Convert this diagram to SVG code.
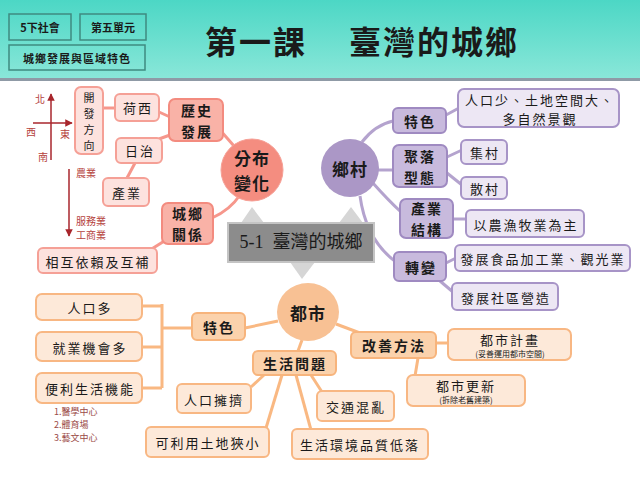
<svg xmlns="http://www.w3.org/2000/svg" width="640" height="480" viewBox="0 0 640 480">
<defs>
<linearGradient id="hdr" x1="0" y1="0" x2="0" y2="1">
<stop offset="0" stop-color="#4cd7c5"/>
<stop offset="1" stop-color="#8ae7d9"/>
</linearGradient>
<marker id="arr" viewBox="0 0 10 10" refX="9" refY="5" markerWidth="5" markerHeight="5" orient="auto">
<path d="M0,0 L10,5 L0,10 z" fill="#a8262c"/>
</marker>
</defs>
<style>
text{font-family:"Noto Sans CJK TC","Noto Sans CJK SC",sans-serif;fill:#1a1a1a;text-anchor:middle;dominant-baseline:central}
.hb{fill:none;stroke:#3f8a80;stroke-width:1.5}
.ht{font-size:11px;font-weight:bold}
.t{font-size:13px;letter-spacing:2px}
.tv{font-size:11px}
.tb{font-size:14px;font-weight:bold;letter-spacing:2px}
.tc{font-size:17px;font-weight:bold;letter-spacing:1px}
.ts{font-size:8px}
.note{font-size:9px;fill:#9b4b47;text-anchor:start}
.red{font-size:10px;fill:#b5423d}
.sL{fill:#fde2de;stroke:#f5a096;stroke-width:2}
.sM{fill:#f9b2a7;stroke:#f38b7f;stroke-width:2}
.pL{fill:#ede7f4;stroke:#a794c7;stroke-width:2}
.pM{fill:#c8badd;stroke:#9f8ac1;stroke-width:2}
.oL{fill:#fde9d9;stroke:#f8b783;stroke-width:2}
.oM{fill:#fbd2ac;stroke:#f7b47c;stroke-width:2}
.cs{fill:none;stroke:#f6978c;stroke-width:3}
.cp{fill:none;stroke:#b4a3ce;stroke-width:3}
.co{fill:none;stroke:#f9b882;stroke-width:3}
.tri{fill:#d6d6d6}
</style>
<rect x="0" y="0" width="640" height="480" fill="#ffffff"/>
<rect x="0" y="0" width="640" height="79" fill="url(#hdr)"/>
<rect x="0" y="78" width="640" height="3" fill="#8f9aa6"/>
<g id="header">
<rect class="hb" x="9" y="14" width="62" height="26"/>
<text class="ht" x="40" y="27">5下社會</text>
<rect class="hb" x="80" y="14" width="66" height="26"/>
<text class="ht" x="113" y="27">第五單元</text>
<rect class="hb" x="9" y="45" width="136" height="25"/>
<text class="ht" x="77" y="58" style="letter-spacing:1px">城鄉發展與區域特色</text>
<text x="256" y="40" style="font-size:32px;font-weight:bold;letter-spacing:2px">第一課</text>
<text x="434" y="40" style="font-size:32px;font-weight:bold;letter-spacing:2px">臺灣的城鄉</text>
</g>
<g id="compass">
<line x1="51" y1="160" x2="51" y2="94" stroke="#a8262c" stroke-width="1.5" marker-end="url(#arr)"/>
<line x1="33" y1="123" x2="72" y2="123" stroke="#a8262c" stroke-width="1.5" marker-end="url(#arr)"/>
<text class="red" x="40" y="98">北</text>
<text class="red" x="31" y="131">西</text>
<text class="red" x="65" y="133">東</text>
<text class="red" x="43" y="156">南</text>
<line x1="69" y1="169" x2="69" y2="236" stroke="#a8262c" stroke-width="1.5" marker-end="url(#arr)"/>
<text class="red" x="86" y="172">農業</text>
<text class="red" x="91" y="220">服務業</text>
<text class="red" x="91" y="234">工商業</text>
</g>
<g id="connectors">
<line class="cs" x1="103" y1="108" x2="115" y2="108"/>
<line class="cs" x1="159" y1="112" x2="170" y2="117"/>
<line class="cs" x1="159" y1="139" x2="170" y2="135"/>
<line class="cs" x1="135" y1="163" x2="127" y2="178"/>
<line class="cs" x1="220" y1="130" x2="234" y2="146"/>
<path class="cs" d="M240,195 Q230,210 212,218"/>
<line class="cs" x1="166" y1="240" x2="150" y2="250"/>
<path class="cp" d="M362,142 Q375,125 393,121"/>
<line class="cp" x1="378" y1="170" x2="394" y2="170"/>
<path class="cp" d="M372,182 Q388,200 401,212"/>
<path class="cp" d="M360,196 Q366,240 396,262"/>
<line class="cp" x1="446" y1="115" x2="459" y2="108"/>
<line class="cp" x1="447" y1="157" x2="462" y2="150"/>
<line class="cp" x1="447" y1="173" x2="462" y2="185"/>
<line class="cp" x1="453" y1="219" x2="467" y2="219"/>
<line class="cp" x1="446" y1="263" x2="456" y2="258"/>
<line class="cp" x1="440" y1="281" x2="453" y2="292"/>
<line class="co" x1="278" y1="321" x2="245" y2="328"/>
<line class="co" x1="302" y1="340" x2="298" y2="351"/>
<line class="co" x1="336" y1="324" x2="360" y2="333"/>
<line class="co" x1="436" y1="343" x2="448" y2="343"/>
<line class="co" x1="418" y1="358" x2="415" y2="376"/>
<line class="co" x1="264" y1="375" x2="251" y2="387"/>
<line class="co" x1="282" y1="375" x2="266" y2="428"/>
<line class="co" x1="296" y1="375" x2="311" y2="430"/>
<line class="co" x1="311" y1="375" x2="322" y2="392"/>
<path class="co" d="M192,328 H162 M162,304 V388 M142,306 H162 M142,347 H162 M142,388 H162"/>
</g>
<g id="center">
<polygon class="tri" points="241,223 264,223 252,207"/>
<polygon class="tri" points="339,223 363,223 351,207"/>
<polygon class="tri" points="290,262 315,262 302,279"/>
<rect x="228" y="223" width="146" height="39" fill="#8c8c8c" stroke="#c4c4c4" stroke-width="2"/>
<text x="301" y="242" style="font-size:18px;white-space:pre;font-family:'Liberation Serif','Noto Sans CJK TC',serif">5-1  臺灣的城鄉</text>
</g>
<g id="n-fenbu"><circle cx="252" cy="170" r="31" fill="#f48d80" stroke="#f6a197" stroke-width="1"/><text class="tc" x="252" y="157.5">分布</text><text class="tc" x="252" y="182.5">變化</text></g>
<g id="n-lishi"><rect class="sM" x="169" y="99" width="54" height="42" rx="6"/><text class="tb" x="197" y="109.5">歷史</text><text class="tb" x="197" y="130.5">發展</text></g>
<g id="n-kaifa"><rect class="sL" x="75" y="87" width="28" height="67" rx="6"/><text class="tv" x="89" y="97">開</text><text class="tv" x="89" y="113">發</text><text class="tv" x="89" y="129">方</text><text class="tv" x="89" y="145">向</text></g>
<g id="n-hexi"><rect class="sL" x="115" y="94" width="44" height="27" rx="5"/><text class="t" x="138" y="107">荷西</text></g>
<g id="n-rizhi"><rect class="sL" x="116" y="138" width="46" height="25" rx="5"/><text class="t" x="140" y="150">日治</text></g>
<g id="n-chanye"><rect class="sL" x="103" y="178" width="46" height="28" rx="5"/><text class="t" x="127" y="192">產業</text></g>
<g id="n-chengxiang"><rect class="sM" x="162" y="203" width="51" height="41" rx="6"/><text class="tb" x="188" y="213">城鄉</text><text class="tb" x="188" y="234">關係</text></g>
<g id="n-huxiang"><rect class="sL" x="38" y="248" width="119" height="25" rx="5"/><text class="t" x="98" y="261">相互依賴及互補</text></g>
<g id="n-xiangcun"><circle cx="350" cy="168" r="29" fill="#ab97c6"/><text class="tc" x="350" y="168">鄉村</text></g>
<g id="n-tese-p"><rect class="pM" x="393" y="108" width="53" height="25" rx="5"/><text class="tb" x="420" y="121">特色</text></g>
<g id="n-renkoushao"><rect class="pL" x="458" y="89" width="161" height="38" rx="6"/><text class="t" x="540" y="99">人口少、土地空間大、</text><text class="t" x="540" y="118">多自然景觀</text></g>
<g id="n-juluo"><rect class="pM" x="393" y="145" width="54" height="42" rx="6"/><text class="tb" x="420" y="155.5">聚落</text><text class="tb" x="420" y="176.5">型態</text></g>
<g id="n-jicun"><rect class="pL" x="461" y="140" width="46" height="24" rx="5"/><text class="t" x="485" y="152">集村</text></g>
<g id="n-sancun"><rect class="pL" x="461" y="177" width="46" height="22" rx="5"/><text class="t" x="485" y="188">散村</text></g>
<g id="n-chanyejiegou"><rect class="pM" x="400" y="199" width="53" height="39" rx="6"/><text class="tb" x="427" y="208">產業</text><text class="tb" x="427" y="229">結構</text></g>
<g id="n-nongyu"><rect class="pL" x="466" y="210" width="118" height="27" rx="5"/><text class="t" x="526" y="224">以農漁牧業為主</text></g>
<g id="n-zhuanbian"><rect class="pM" x="394" y="252" width="52" height="29" rx="5"/><text class="tb" x="421" y="267">轉變</text></g>
<g id="n-shipin"><rect class="pL" x="455" y="245" width="175" height="26" rx="5"/><text class="t" x="543" y="258">發展食品加工業、觀光業</text></g>
<g id="n-shequ"><rect class="pL" x="452" y="283" width="106" height="27" rx="5"/><text class="t" x="506" y="297">發展社區營造</text></g>
<g id="n-dushi"><ellipse cx="308" cy="312" rx="31" ry="29" fill="#f8c194"/><text class="tc" x="308" y="312">都市</text></g>
<g id="n-tese-o"><rect class="oM" x="192" y="313" width="53" height="27" rx="5"/><text class="tb" x="219" y="327">特色</text></g>
<g id="n-renkouduo"><rect class="oL" x="36" y="294" width="106" height="26" rx="6"/><text class="t" x="90" y="307">人口多</text></g>
<g id="n-jiuye"><rect class="oL" x="36" y="332" width="106" height="29" rx="6"/><text class="t" x="90" y="347">就業機會多</text></g>
<g id="n-bianli"><rect class="oL" x="36" y="373" width="106" height="30" rx="6"/><text class="t" x="90" y="388">便利生活機能</text></g>
<g id="n-list"><text class="note" x="54" y="411">1.醫學中心</text><text class="note" x="54" y="424">2.體育場</text><text class="note" x="54" y="437">3.藝文中心</text></g>
<g id="n-shenghuo"><rect class="oM" x="253" y="351" width="83" height="24" rx="5"/><text class="tb" x="295" y="363">生活問題</text></g>
<g id="n-gaishan"><rect class="oM" x="351" y="332" width="85" height="26" rx="5"/><text class="tb" x="394" y="345">改善方法</text></g>
<g id="n-jihua"><rect class="oL" x="448" y="329" width="123" height="31" rx="6"/><text class="t" x="510" y="339">都市計畫</text><text class="ts" x="510" y="353">(妥善運用都市空間)</text></g>
<g id="n-gengxin"><rect class="oL" x="407" y="375" width="118" height="31" rx="6"/><text class="t" x="466" y="385">都市更新</text><text class="ts" x="466" y="399">(拆除老舊建築)</text></g>
<g id="n-yongji"><rect class="oL" x="177" y="384" width="74" height="29" rx="5"/><text class="t" x="214" y="399">人口擁擠</text></g>
<g id="n-jiaotong"><rect class="oL" x="317" y="391" width="77" height="30" rx="5"/><text class="t" x="356" y="406">交通混亂</text></g>
<g id="n-tudi"><rect class="oL" x="146" y="427" width="123" height="30" rx="5"/><text class="t" x="208" y="442">可利用土地狹小</text></g>
<g id="n-huanjing"><rect class="oL" x="292" y="429" width="136" height="30" rx="5"/><text class="t" x="360" y="444">生活環境品質低落</text></g>
</svg>
